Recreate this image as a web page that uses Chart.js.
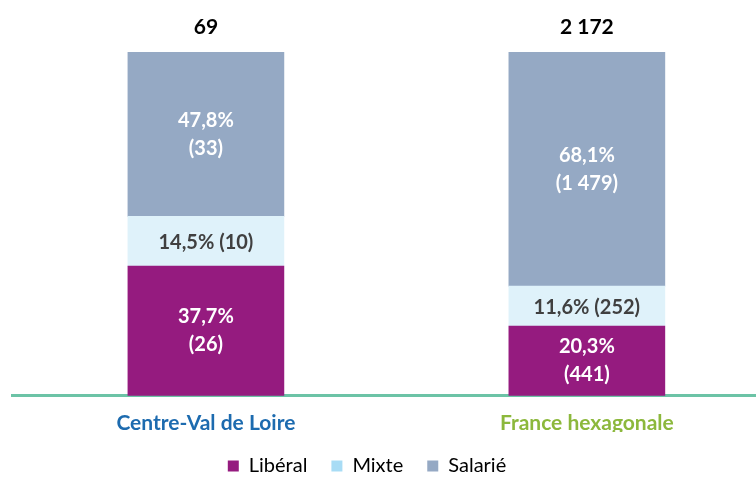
<!DOCTYPE html>
<html>
<head>
<meta charset="utf-8">
<script src="https://cdn.jsdelivr.net/npm/chart.js@4"></script>
<style>
  html, body { margin: 0; padding: 0; background: #fff; }
  #wrap { width: 756px; height: 477px; }
</style>
</head>
<body>
<div id="wrap"><canvas id="chart" width="756" height="477"></canvas></div>
<script>
// data
const categories = ['Centre-Val de Loire', 'France hexagonale'];
const categoryColors = ['#1D6BAF', '#8CB83C'];
const totals = ['69', '2 172'];

const seriesNames = ['Libéral', 'Mixte', 'Salarié'];
const liberalPct = [37.7, 20.3];
const mixtePct = [14.5, 11.6];
const salariePct = [47.8, 68.1];
const liberalCount = ['26', '441'];
const mixteCount = ['10', '252'];
const salarieCount = ['33', '1 479'];

const fillColors = ['#951B7F', '#DFF2FA', '#95A9C4'];
const legendColors = ['#951B7F', '#A8DCF5', '#95A9C4'];
const labelColors = ['#FFFFFF', '#404040', '#FFFFFF'];

const FONT = 'Lato, "Open Sans", sans-serif';

function pct(v) { return v.toFixed(1).replace('.', ','); }

function makeSet(i, pcts, counts, twoLines) {
  return {
    label: seriesNames[i],
    data: pcts.map((v, j) => ({ x: j, y: v })),
    counts: counts,
    twoLines: twoLines,
    backgroundColor: fillColors[i],
    borderWidth: 0,
    barThickness: 156
  };
}

// labels inside segments + totals above
const segLabels = {
  id: 'segLabels',
  beforeInit(chart) {
    // tighten the legend box so it sits near the bottom edge
    const fit = chart.legend.fit;
    chart.legend.fit = function () {
      fit.call(this);
      this.height -= 13;
    };
  },
  afterLayout(chart) {
    // legend is a bit left of centre in the original
    chart.legend.left -= 17;
    chart.legend.right -= 17;
  },
  afterDatasetsDraw(chart) {
    const ctx = chart.ctx;
    ctx.save();
    ctx.textAlign = 'center';
    ctx.textBaseline = 'middle';
    ctx.font = 'bold 20px ' + FONT;
    chart.data.datasets.forEach((ds, di) => {
      const meta = chart.getDatasetMeta(di);
      meta.data.forEach((bar, j) => {
        const cy = (bar.y + bar.base) / 2;
        const p = pct(ds.data[j].y) + '%';
        const c = '(' + ds.counts[j] + ')';
        ctx.fillStyle = labelColors[di];
        if (ds.twoLines) {
          ctx.fillText(p, bar.x, cy - 14);
          ctx.fillText(c, bar.x, cy + 14);
        } else {
          ctx.fillText(p + ' ' + c, bar.x, cy + 1);
        }
      });
    });
    // totals
    const top = chart.getDatasetMeta(chart.data.datasets.length - 1);
    ctx.fillStyle = '#000000';
    ctx.font = 'bold 21px ' + FONT;
    top.data.forEach((bar, j) => {
      ctx.fillText(totals[j], bar.x, chart.chartArea.top - 25);
    });
    ctx.restore();
  }
};

new Chart(document.getElementById('chart'), {
  type: 'bar',
  data: {
    datasets: [
      makeSet(0, liberalPct, liberalCount, true),
      makeSet(1, mixtePct, mixteCount, false),
      makeSet(2, salariePct, salarieCount, true)
    ]
  },
  options: {
    responsive: false,
    animation: false,
    layout: { padding: { top: 52, left: 12, right: 0, bottom: 4 } },
    scales: {
      x: {
        type: 'linear',
        stacked: true,
        offset: false,
        min: -0.509,
        max: 1.444,
        afterBuildTicks(scale) {
          scale.ticks = categories.map((_, i) => ({ value: i }));
        },
        afterFit(scale) {
          scale.height -= 19;
        },
        grid: { display: false, drawTicks: false },
        border: { display: true, color: '#6CC3A6', width: 3 },
        ticks: {
          autoSkip: false,
          maxRotation: 0,
          padding: 15,
          font: { family: FONT, size: 21, weight: 'bold' },
          color: (c) => categoryColors[c.tick ? c.tick.value : c.index] || '#000',
          callback: (v) => categories[v] || ''
        }
      },
      y: {
        stacked: true,
        min: 0,
        max: 100,
        display: false
      }
    },
    plugins: {
      tooltip: { enabled: false },
      legend: {
        position: 'bottom',
        labels: {
          boxWidth: 11,
          boxHeight: 11,
          padding: 24,
          color: '#000',
          font: { family: FONT, size: 20 },
          generateLabels: (chart) => seriesNames.map((n, i) => ({
            text: n,
            fillStyle: legendColors[i],
            strokeStyle: legendColors[i],
            lineWidth: 0,
            datasetIndex: i
          }))
        }
      }
    }
  },
  plugins: [segLabels]
});
</script>
</body>
</html>
